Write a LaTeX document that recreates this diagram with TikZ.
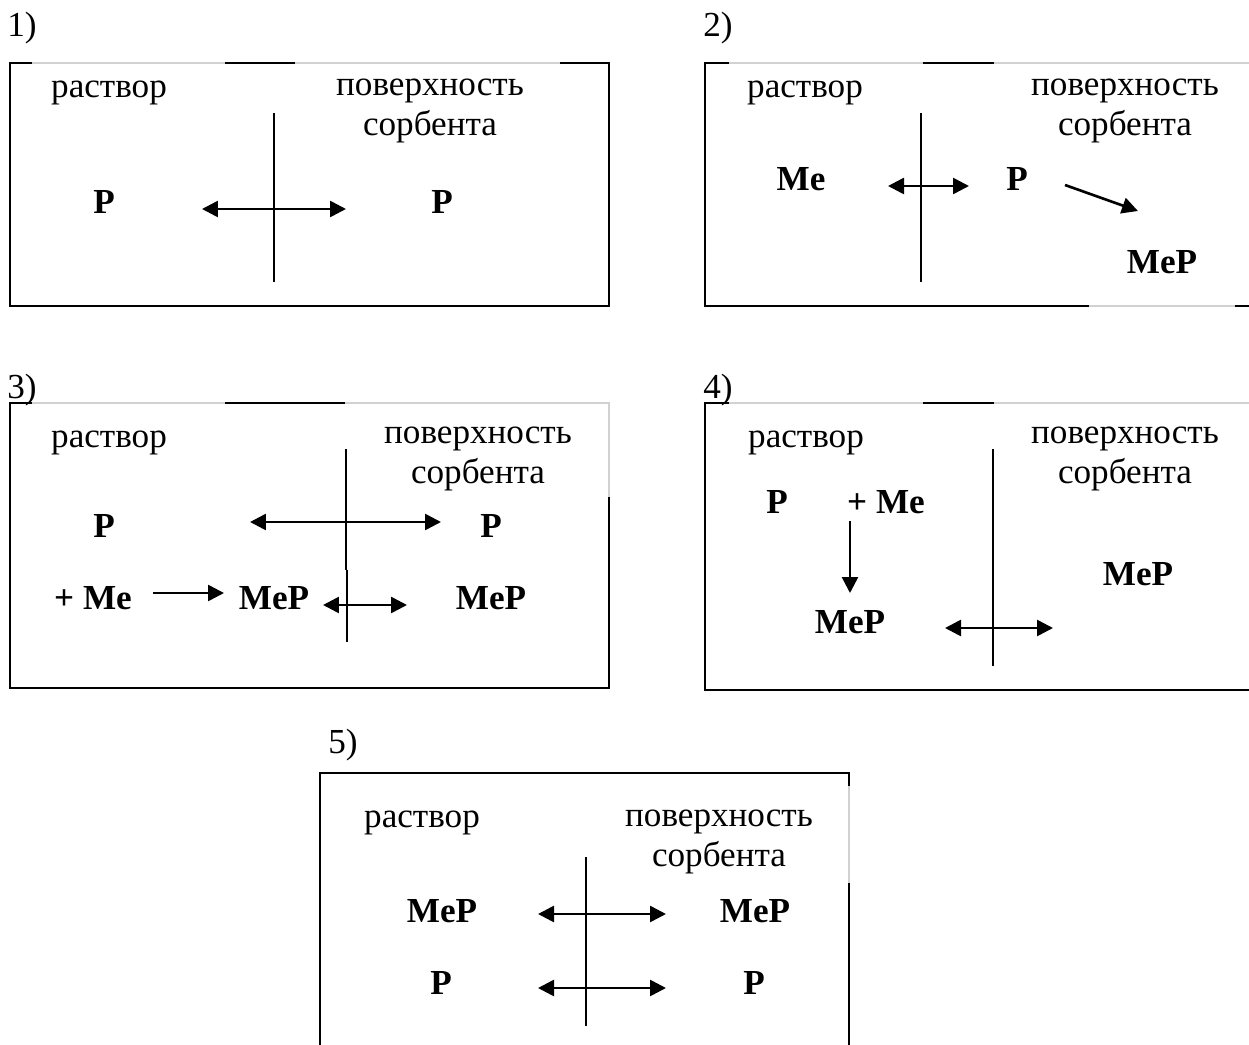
\documentclass[tikz,border=0pt]{standalone}
\usepackage{fontspec}
\setmainfont{Liberation Serif}
\usetikzlibrary{arrows.meta}

\begin{document}
\begin{tikzpicture}[x=0.02cm, y=-0.02cm, >={Triangle[length=3.2mm, width=3.2mm]}]

    %styles
    \tikzstyle{txt}=[inner sep=0pt, anchor=base, font=\fontsize{20}{24}\selectfont]
    \tikzstyle{chem}=[inner sep=0pt, anchor=base, font=\fontsize{20}{24}\selectfont\bfseries]
    \tikzstyle{frame}=[line width=1.1pt, black]
    \tikzstyle{faint}=[line width=0.6pt, black!18]
    \tikzstyle{wall}=[line width=0.8pt]
    \tikzstyle{flow}=[<->, line width=1.5pt]
    \tikzstyle{go}=[->, line width=1.5pt]

    \useasboundingbox (0,0) rectangle (1249,1045);

    % frames
    \draw[faint] (10,63) -- (609,63);
    \draw[frame] (32,63) -- (10,63) -- (10,306) -- (609,306) -- (609,63) -- (560,63);
    \draw[frame] (225,63) -- (295,63);

    \draw[faint] (705,63) -- (1249,63);
    \draw[faint] (705,306) -- (1249,306);
    \draw[frame] (729,63) -- (705,63) -- (705,306) -- (1089,306);
    \draw[frame] (923,63) -- (994,63);
    \draw[frame] (1235,306) -- (1249,306);

    \draw[faint] (10,403) -- (609,403) -- (609,497);
    \draw[frame] (32,403) -- (10,403) -- (10,688) -- (609,688) -- (609,497);
    \draw[frame] (225,403) -- (345,403);

    \draw[faint] (705,403) -- (1249,403);
    \draw[frame] (729,403) -- (705,403) -- (705,690) -- (1249,690);
    \draw[frame] (923,403) -- (994,403);

    \draw[faint] (849,786) -- (849,883);
    \draw[frame] (320,1045) -- (320,773) -- (849,773) -- (849,786);
    \draw[frame] (849,883) -- (849,1045);

    % walls
    \draw[wall] (274,113) -- (274,282);
    \draw[wall] (921,113) -- (921,282);
    \draw[wall] (346,449) -- (346,570);
    \draw[wall] (347,570) -- (347,642);
    \draw[wall] (993,449) -- (993,666);
    \draw[wall] (586,857) -- (586,1026);

    % panel 1
    \node[txt] (n1) at (22,36) {1)};
    \node[txt] (sol1) at (109,97) {раствор};
    \node[txt] (sur1) at (430,95) {поверхность};
    \node[txt] (sorb1) at (430,135) {сорбента};
    \node[chem] (p1l) at (104,213) {P};
    \node[chem] (p1r) at (442,213) {P};
    \coordinate (a1l) at (202,209);
    \coordinate (a1r) at (346,209);
    \draw[flow] (a1l) -- (a1r);

    % panel 2
    \node[txt] (n2) at (718,36) {2)};
    \node[txt] (sol2) at (805,97) {раствор};
    \node[txt] (sur2) at (1125,95) {поверхность};
    \node[txt] (sorb2) at (1125,135) {сорбента};
    \node[chem] (me2) at (801,190) {Me};
    \node[chem] (p2) at (1017,190) {P};
    \node[chem] (mep2) at (1162,273) {MeP};
    \coordinate (a2l) at (888,186);
    \coordinate (a2r) at (969,186);
    \coordinate (b2s) at (1065,185);
    \coordinate (b2e) at (1138,211);
    \draw[flow] (a2l) -- (a2r);
    \draw[go] (b2s) -- (b2e);

    % panel 3
    \node[txt] (n3) at (22,398) {3)};
    \node[txt] (sol3) at (109,447) {раствор};
    \node[txt] (sur3) at (478,443) {поверхность};
    \node[txt] (sorb3) at (478,483) {сорбента};
    \node[chem] (p3l) at (104,537) {P};
    \node[chem] (p3r) at (491,537) {P};
    \node[chem] (me3) at (93,609) {+ Me};
    \node[chem] (mep3l) at (274,609) {MeP};
    \node[chem] (mep3r) at (491,609) {MeP};
    \coordinate (a3l) at (250,522);
    \coordinate (a3r) at (441,522);
    \coordinate (b3l) at (153,593);
    \coordinate (b3r) at (224,593);
    \coordinate (c3l) at (323,605);
    \coordinate (c3r) at (407,605);
    \draw[flow] (a3l) -- (a3r);
    \draw[go] (b3l) -- (b3r);
    \draw[flow] (c3l) -- (c3r);

    % panel 4
    \node[txt] (n4) at (718,398) {4)};
    \node[txt] (sol4) at (806,447) {раствор};
    \node[txt] (sur4) at (1125,443) {поверхность};
    \node[txt] (sorb4) at (1125,483) {сорбента};
    \node[chem] (p4) at (777,513) {P};
    \node[chem] (me4) at (886,513) {+ Me};
    \node[chem] (mep4l) at (850,633) {MeP};
    \node[chem] (mep4r) at (1138,585) {MeP};
    \coordinate (d4t) at (850,521);
    \coordinate (d4b) at (850,593);
    \coordinate (a4l) at (945,628);
    \coordinate (a4r) at (1053,628);
    \draw[go] (d4t) -- (d4b);
    \draw[flow] (a4l) -- (a4r);

    % panel 5
    \node[txt] (n5) at (343,753) {5)};
    \node[txt] (sol5) at (422,827) {раствор};
    \node[txt] (sur5) at (719,826) {поверхность};
    \node[txt] (sorb5) at (719,866) {сорбента};
    \node[chem] (mep5l) at (442,922) {MeP};
    \node[chem] (mep5r) at (755,922) {MeP};
    \node[chem] (p5l) at (441,994) {P};
    \node[chem] (p5r) at (754,994) {P};
    \coordinate (a5l) at (538,914);
    \coordinate (a5r) at (666,914);
    \coordinate (b5l) at (538,988);
    \coordinate (b5r) at (666,988);
    \draw[flow] (a5l) -- (a5r);
    \draw[flow] (b5l) -- (b5r);
\end{tikzpicture}
\end{document}
